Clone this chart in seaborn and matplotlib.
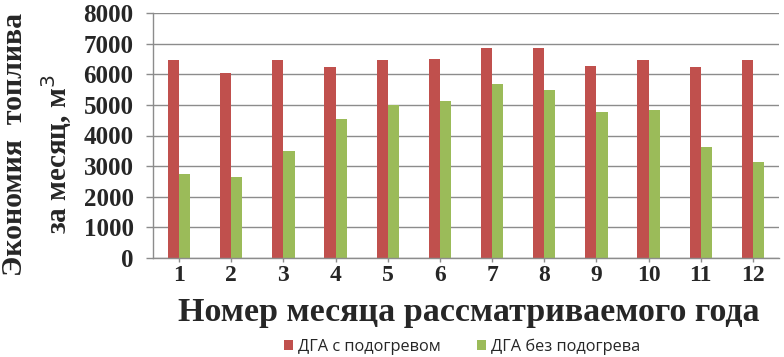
import matplotlib
matplotlib.use("Agg")
import matplotlib.pyplot as plt
import seaborn as sns
import pandas as pd
from matplotlib.patches import Patch

months = [str(i) for i in range(1, 13)]
series_names = ["ДГА с подогревом", "ДГА без подогрева"]
with_heating = [6450, 6050, 6450, 6250, 6450, 6500, 6850, 6850, 6280, 6450, 6250, 6450]
without_heating = [2730, 2630, 3480, 4530, 5000, 5140, 5670, 5500, 4780, 4820, 3630, 3120]
y_ticks = [0, 1000, 2000, 3000, 4000, 5000, 6000, 7000, 8000]
colors = ["#C0504D", "#9BBB59"]

df = pd.DataFrame({
    "month": months * 2,
    "value": with_heating + without_heating,
    "series": [series_names[0]] * 12 + [series_names[1]] * 12,
})

sns.set_style("white")
W, H = 784, 357
fig = plt.figure(figsize=(W / 100, H / 100), dpi=100)
ax = fig.add_axes([153 / W, 1 - 258 / H, (779 - 153) / W, (258 - 13) / H])

sns.barplot(data=df, x="month", y="value", hue="series", order=months,
            hue_order=series_names, palette=colors, width=0.43, gap=0,
            saturation=1, linewidth=0, ax=ax, legend=False)

ax.set_ylim(0, 8000)
ax.set_xlim(-0.5, 11.5)
ax.set_yticks(y_ticks)
ax.yaxis.grid(True, color="#8c8c8c", linewidth=1.0)
ax.set_axisbelow(True)
for s in ["top", "right"]:
    ax.spines[s].set_visible(False)
for s in ["left", "bottom"]:
    ax.spines[s].set_color("#8c8c8c")
    ax.spines[s].set_linewidth(1.0)
ax.tick_params(axis="y", length=5, color="#8c8c8c", width=1, pad=9, left=True)
ax.tick_params(axis="x", length=3, color="#8c8c8c", width=1, pad=2, bottom=True)
serif = "Liberation Serif"
for lab in ax.get_yticklabels():
    lab.set_fontfamily(serif); lab.set_fontweight("bold"); lab.set_fontsize(18)
for lab in ax.get_xticklabels():
    lab.set_fontfamily(serif); lab.set_fontweight("bold"); lab.set_fontsize(17)
ax.set_xlabel("")
ax.set_ylabel("")

fig.text(469 / W, 1 - 313 / H, "Номер месяца рассматриваемого года",
         family=serif, weight="bold", fontsize=24.5, ha="center", va="center")
fig.text(15 / W, 1 - 144 / H, "Экономия  топлива", family=serif, weight="bold",
         fontsize=21.5, rotation=90, ha="center", va="center")
fig.text(57 / W, 1 - 154 / H, "за месяц, м$^3$", family=serif, weight="bold",
         fontsize=21, rotation=90, ha="center", va="center")

handles = [Patch(facecolor=c, edgecolor="none") for c in colors]
fig.legend(handles, series_names, loc="center", bbox_to_anchor=(462 / W, 1 - 347 / H),
           ncol=2, frameon=False, handlelength=0.55, handleheight=0.55,
           handletextpad=0.3, columnspacing=2.2, borderpad=0, borderaxespad=0,
           prop={"family": "Open Sans", "size": 11.8})

fig.savefig("out.png", dpi=100)
